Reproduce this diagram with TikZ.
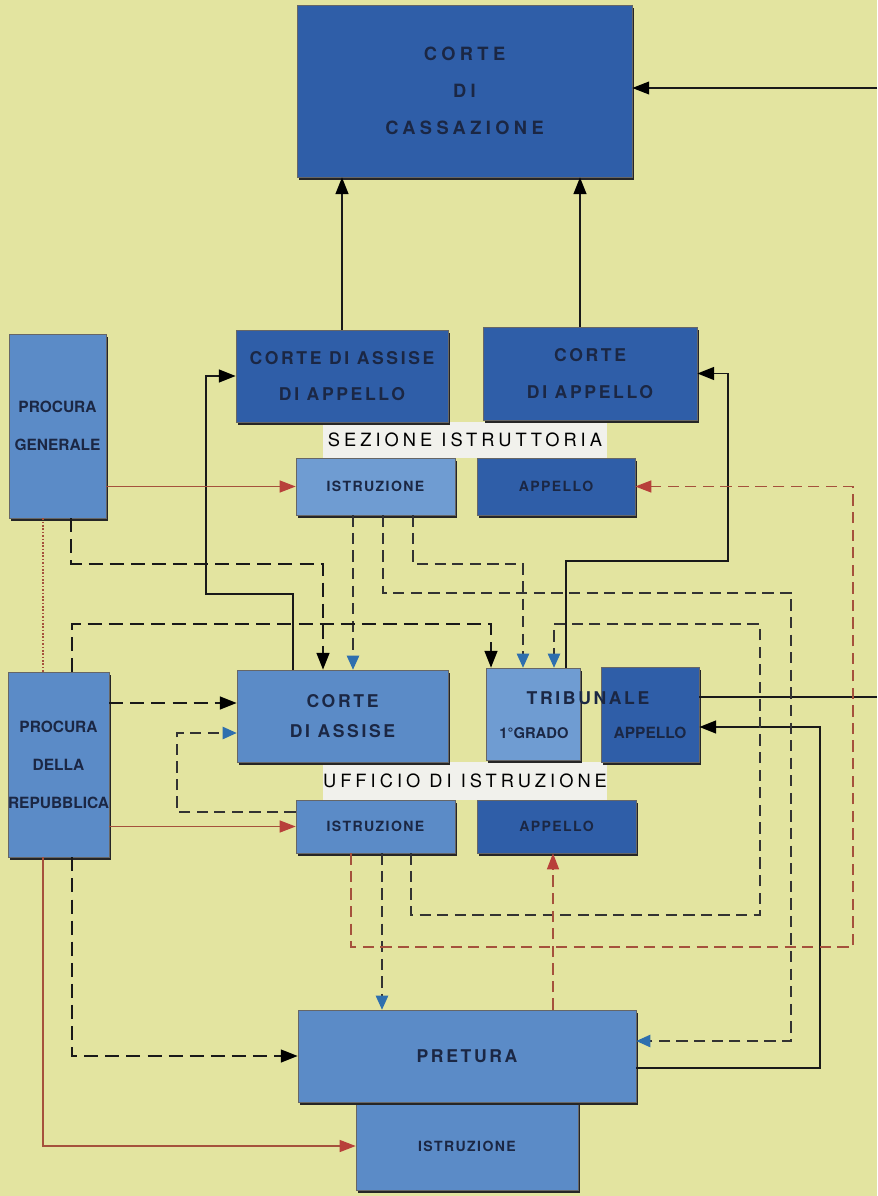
\documentclass[tikz,border=0pt]{standalone}
\usepackage{fontspec}
\setmainfont{TeX Gyre Heros}
\newfontfamily\labfont[LetterSpace=15]{TeX Gyre Heros}
\newfontfamily\widefont[LetterSpace=24]{TeX Gyre Heros}
\newfontfamily\tagfont[LetterSpace=22]{TeX Gyre Heros}
\newfontfamily\smallfont[LetterSpace=10]{TeX Gyre Heros}
\usetikzlibrary{arrows.meta,shadows,positioning}

\definecolor{paper}{HTML}{E3E4A0}
\definecolor{deepblue}{HTML}{2F5EA8}
\definecolor{midblue}{HTML}{5B8BC7}
\definecolor{paleblue}{HTML}{6F9CD2}
\definecolor{tagwhite}{HTML}{F1F1EC}
\definecolor{ink}{HTML}{1B2744}
\definecolor{rust}{HTML}{A5513C}
\definecolor{redtip}{HTML}{B8403A}
\definecolor{bluetip}{HTML}{2E6FAE}

\begin{document}
\begin{tikzpicture}[x=0.025cm,y=-0.025cm,
	box/.style={draw=black!60,line width=0.4pt,text=ink,align=center,inner sep=0pt,
		drop shadow={shadow xshift=1.6pt,shadow yshift=-2pt,opacity=1,fill=black!85}},
	courtbox/.style={box,fill=deepblue},
	procbox/.style={box,fill=midblue},
	istrbox/.style={box,fill=paleblue},
	tag/.style={fill=tagwhite,inner sep=0pt,text=black,font=\tagfont\fontsize{13}{13}\selectfont},
	big/.style={font=\labfont\bfseries\fontsize{12.5}{26}\selectfont},
	proc/.style={font=\bfseries\fontsize{11}{27}\selectfont},
	small/.style={font=\smallfont\bfseries\fontsize{10}{12}\selectfont},
	solidline/.style={line width=1.3pt,black!90},
	fineline/.style={line width=0.9pt,black!90},
	heavydash/.style={line width=1.3pt,black!90,dash pattern=on 10pt off 5pt},
	lightdash/.style={line width=0.8pt,black!80,dash pattern=on 8pt off 4.5pt},
	redpath/.style={line width=0.9pt,rust},
	reddash/.style={line width=0.9pt,rust,dash pattern=on 8pt off 4.5pt},
	reddot/.style={line width=1.7pt,rust,dash pattern=on 1.2pt off 1.2pt},
	ktip/.style={-{Triangle[length=4.2mm,width=3.2mm,color=black,fill=black]}},
	rtip/.style={-{Triangle[length=4mm,width=3mm,color=redtip,fill=redtip]}},
	btip/.style={-{Triangle[length=3.5mm,width=3.1mm,color=bluetip,fill=bluetip]}}]

	\path[use as bounding box,fill=paper] (0,0) rectangle (877,1196);

	\node[tag,minimum width=7.1cm,minimum height=0.9cm] (SezIstr) at (465,440) {SEZIONE ISTRUTTORIA};
	\node[tag,minimum width=7.1cm,minimum height=0.95cm] (UffIstr) at (465,781) {UFFICIO DI ISTRUZIONE};

	\node[courtbox,font=\widefont\bfseries\fontsize{13}{26.5}\selectfont,minimum width=8.375cm,minimum height=4.3cm] (Cass) at (464.5,91) {CORTE\\DI\\CASSAZIONE};
	\node[courtbox,big,minimum width=5.3cm,minimum height=2.3cm] (CAA) at (342,376) {CORTE DI ASSISE\\DI APPELLO};
	\node[courtbox,big,minimum width=5.35cm,minimum height=2.325cm] (CApp) at (590,373.5) {CORTE\\DI APPELLO};
	\node[istrbox,small,minimum width=3.975cm,minimum height=1.425cm] (SezI) at (375.5,486.5) {ISTRUZIONE};
	\node[courtbox,small,minimum width=3.95cm,minimum height=1.425cm] (SezA) at (556,486.5) {APPELLO};

	\node[procbox,proc,minimum width=2.425cm,minimum height=4.6cm] (PG) at (57.5,426) {PROCURA\\GENERALE};
	\node[procbox,proc,minimum width=2.475cm,minimum height=4.625cm] (PR) at (58.5,764.5) {PROCURA\\DELLA\\REPUBBLICA};

	\node[procbox,big,font=\labfont\bfseries\fontsize{12.5}{21}\selectfont,minimum width=5.275cm,minimum height=2.3cm] (CdA) at (342.5,716) {CORTE\\DI ASSISE};
	\node[istrbox,minimum width=2.35cm,minimum height=2.3cm] (Trib) at (533,714) {};
	\node[courtbox,minimum width=2.45cm,minimum height=2.375cm] (TribA) at (650,714.5) {};
	\node[big,text=ink] (TribT) at (588,698) {TRIBUNALE};
	\node[text=ink,font=\bfseries\fontsize{10.5}{13}\selectfont] (TribG) at (534,733) {1°GRADO};
	\node[text=ink,font=\bfseries\fontsize{11}{14}\selectfont] (TribAT) at (650,733) {APPELLO};

	\node[procbox,small,minimum width=3.975cm,minimum height=1.325cm] (UffI) at (375.5,826.5) {ISTRUZIONE};
	\node[courtbox,small,minimum width=3.975cm,minimum height=1.325cm] (UffA) at (556.5,826.5) {APPELLO};

	\node[procbox,small,minimum width=5.55cm,minimum height=2.2cm] (PretI) at (467,1146) {ISTRUZIONE};
	\node[procbox,big,minimum width=8.45cm,minimum height=2.3cm] (Pret) at (467,1056) {PRETURA};

	\coordinate (edgeT) at (877,697);
	\coordinate (edgeC) at (877,88);

	\draw[solidline,ktip] (CAA.north) -- (CAA.north |- Cass.south);
	\draw[solidline,ktip] (CApp.north -| 580,0) -- (Cass.south -| 580,0);
	\draw[fineline] (edgeT -| TribA.east) -- (edgeT);
	\draw[fineline,ktip] (edgeC) -- (edgeC -| Cass.east);
	\draw[solidline,ktip] (CdA.north -| 293,0) |- (206,594) |- (CAA.west);
	\draw[solidline,ktip] (Trib.north -| 566,0) |- (728,561) |- (CApp.east);
	\draw[solidline,ktip] (Pret.east |- 0,1068) -| (820,727) -- (TribA.east |- 0,727);

	\draw[redpath,rtip] (PG.east |- SezI) -- (SezI.west);
	\draw[reddot] (PG.south -| 43,0) -- (PR.north -| 43,0);
	\draw[heavydash,ktip] (PG.south -| 71,0) |- (323,564) -- (CdA.north -| 323,0);

	\draw[lightdash,btip] (SezI.south -| 353,0) -- (CdA.north -| 353,0);
	\draw[lightdash,btip] (SezI.south -| 413,0) |- (523,564) -- (Trib.north -| 523,0);
	\draw[lightdash,btip] (SezI.south -| 383,0) |- (791,593) |- (Pret.east |- 0,1041);

	\draw[heavydash,ktip] (PR.north -| 72,0) |- (491,624) -- (Trib.north -| 491,0);
	\draw[heavydash,ktip] (PR.east |- 0,703) -- (CdA.west |- 0,703);
	\draw[redpath,rtip] (PR.east |- UffI) -- (UffI.west);
	\draw[heavydash,ktip] (PR.south -| 72,0) |- (Pret.west);
	\draw[redpath,rtip] (PR.south -| 43,0) |- (PretI.west);

	\draw[lightdash,btip] (UffI.west |- 0,812) -| (177,733) -- (CdA.west |- 0,733);
	\draw[lightdash,btip] (UffI.south -| 411,0) |- (760,915) |- (554,624) -- (Trib.north -| 554,0);
	\draw[lightdash,btip] (UffI.south -| 382,0) -- (Pret.north -| 382,0);
	\draw[reddash,rtip] (UffI.south -| 351,0) |- (853,947) |- (SezA.east);
	\draw[reddash,rtip] (Pret.north -| 553,0) -- (UffA.south -| 553,0);
\end{tikzpicture}
\end{document}
